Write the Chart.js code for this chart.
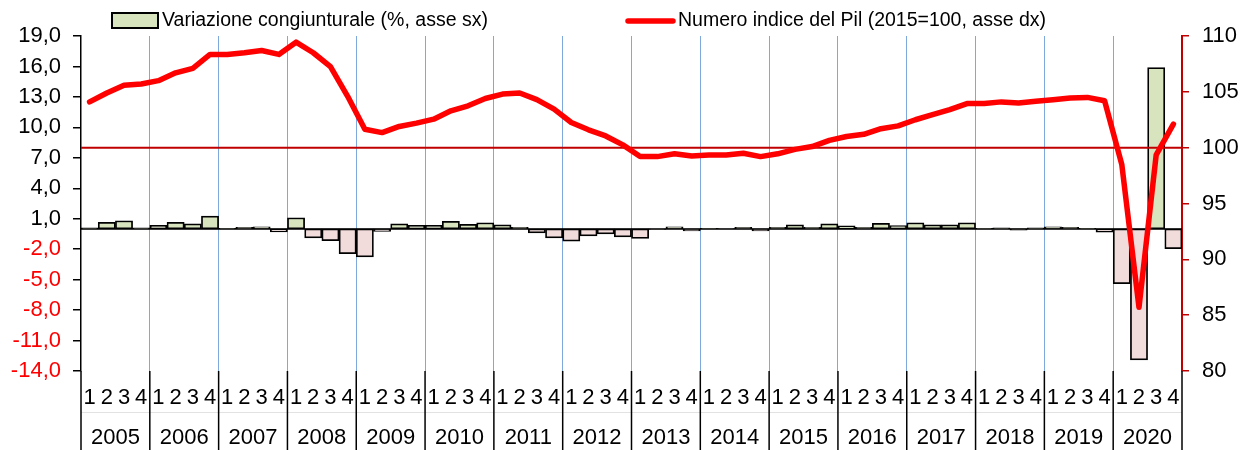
<!DOCTYPE html>
<html>
<head>
<meta charset="utf-8">
<script src="https://cdn.jsdelivr.net/npm/chart.js@4.4.0/dist/chart.umd.min.js"></script>
<style>
  html, body { margin: 0; padding: 0; background: #fff; }
  #wrap { width: 1247px; height: 450px; position: relative; }
</style>
</head>
<body>
<div id="wrap"><canvas id="pil"></canvas></div>
<script>
// Pil trimestrale: variazione congiunturale (barre, asse sx) e numero indice (linea, asse dx)
const years = ["2005", "2006", "2007", "2008", "2009", "2010", "2011", "2012",
  "2013", "2014", "2015", "2016", "2017", "2018", "2019", "2020"];
const quarters = ["1", "2", "3", "4"];

// % su trimestre precedente
const variazione = [
  0.1, 0.65, 0.8, 0.1,
  0.35, 0.65, 0.5, 1.25,
  0.05, 0.15, 0.2, -0.3,
  1.1, -0.9, -1.15, -2.45,
  -2.75, -0.25, 0.5, 0.35,
  0.35, 0.75, 0.45, 0.6,
  0.4, 0.15, -0.4, -0.9,
  -1.2, -0.7, -0.5, -0.8,
  -0.95, -0.05, 0.2, -0.2,
  0.05, 0.03, 0.15, -0.2,
  0.15, 0.4, 0.15, 0.5,
  0.3, 0.15, 0.55, 0.33,
  0.6, 0.4, 0.4, 0.6,
  0.05, 0.1, -0.12, 0.1,
  0.2, 0.15, 0.05, -0.33,
  -5.4, -12.9, 15.9, -1.95,
];

// 2015=100
const indicePil = [
  104.1, 104.9, 105.6, 105.7,
  106.0, 106.7, 107.1, 108.35,
  108.35, 108.5, 108.7, 108.35,
  109.45, 108.5, 107.25, 104.6,
  101.65, 101.35, 101.9, 102.2,
  102.55, 103.3, 103.75, 104.4,
  104.8, 104.9, 104.3, 103.45,
  102.25, 101.6, 101.05, 100.25,
  99.2, 99.2, 99.45, 99.25,
  99.35, 99.35, 99.5, 99.2,
  99.45, 99.85, 100.1, 100.65,
  101.0, 101.2, 101.7, 101.95,
  102.5, 102.95, 103.4, 103.95,
  103.95, 104.1, 104.0, 104.15,
  104.3, 104.45, 104.5, 104.2,
  98.5, 85.7, 99.35, 102.1,
];

const labels = years.flatMap(() => quarters);

const GREEN = "#d7e4bd";
const PINK = "#f2dcdb";
const RED = "#ff0000";
const DARK_RED = "#c00000";
const GRID_BLUE = "#7fa9dc";
const LEGEND_SIZE = 19.5;
const TICK_SIZE = 22;

Chart.defaults.font.family = "'Liberation Sans', Arial, sans-serif";
Chart.defaults.font.size = TICK_SIZE;
Chart.defaults.color = "#000";

const fmtIt = (v) => v.toFixed(1).replace(".", ",");

// zero line + the 100 reference line sit above the bars, under the index line
const decor = {
  id: "decor",
  afterDatasetDraw(chart, args) {
    if (args.meta.type !== "bar") return;
    const { ctx, chartArea: a, scales } = chart;
    ctx.save();
    const y0 = scales.y.getPixelForValue(0);
    ctx.strokeStyle = "#000";
    ctx.lineWidth = 1.5;
    ctx.beginPath();
    ctx.moveTo(a.left, y0);
    ctx.lineTo(a.right, y0);
    ctx.stroke();
    const y100 = scales.y1.getPixelForValue(100);
    ctx.strokeStyle = DARK_RED;
    ctx.lineWidth = 2;
    ctx.beginPath();
    ctx.moveTo(a.left, y100);
    ctx.lineTo(a.right, y100);
    ctx.stroke();
    ctx.restore();
  },
  afterDraw(chart) {
    const { ctx, chartArea: a, scales } = chart;
    const H = chart.height;
    ctx.save();
    // faint line between quarter and year rows
    ctx.strokeStyle = "#e2e2e2";
    ctx.lineWidth = 1;
    ctx.beginPath();
    ctx.moveTo(a.left, 412.5);
    ctx.lineTo(a.right, 412.5);
    ctx.stroke();
    // year separators under the plot
    ctx.strokeStyle = "#000";
    ctx.lineWidth = 1.5;
    for (let i = 0; i <= years.length; i++) {
      const x = scales.x.getPixelForValue(4 * i - 0.5);
      ctx.beginPath();
      ctx.moveTo(x, a.bottom);
      ctx.lineTo(x, H);
      ctx.stroke();
    }
    // legend
    ctx.font = `${LEGEND_SIZE}px 'Liberation Sans', Arial, sans-serif`;
    ctx.textBaseline = "middle";
    ctx.fillStyle = GREEN;
    ctx.fillRect(112, 13, 46, 15);
    ctx.strokeStyle = "#000";
    ctx.lineWidth = 2;
    ctx.strokeRect(112, 13, 46, 15);
    ctx.fillStyle = "#000";
    ctx.fillText(chart.data.datasets[0].label, 162, 20.5);
    ctx.strokeStyle = RED;
    ctx.lineWidth = 5.5;
    ctx.lineCap = "round";
    ctx.beginPath();
    ctx.moveTo(628, 21);
    ctx.lineTo(673, 21);
    ctx.stroke();
    ctx.fillText(chart.data.datasets[1].label, 678, 20.5);
    ctx.restore();
  },
};

new Chart(document.getElementById("pil"), {
  data: {
    labels,
    datasets: [
      {
        type: "bar",
        label: "Variazione congiunturale (%, asse sx)",
        data: variazione,
        yAxisID: "y",
        order: 1,
        backgroundColor: variazione.map((v) => (v >= 0 ? GREEN : PINK)),
        borderColor: "#000",
        borderWidth: 1.75,
        borderSkipped: false,
        categoryPercentage: 1,
        barPercentage: 1,
      },
      {
        type: "line",
        label: "Numero indice del Pil (2015=100, asse dx)",
        data: indicePil,
        yAxisID: "y1",
        order: 0,
        borderColor: RED,
        borderWidth: 5.5,
        borderJoinStyle: "round",
        borderCapStyle: "round",
        pointRadius: 0,
        tension: 0,
      },
    ],
  },
  options: {
    responsive: true,
    maintainAspectRatio: false,
    animation: false,
    layout: { padding: { top: 36, left: 0, right: 0, bottom: 0 } },
    plugins: { legend: { display: false }, tooltip: { enabled: false } },
    scales: {
      x: {
        type: "category",
        offset: true,
        weight: 0,
        grid: {
          offset: true,
          drawTicks: false,
          lineWidth: 1,
          color: (c) => (c.index > 0 && c.index % 4 === 0 ? GRID_BLUE : "rgba(0,0,0,0)"),
        },
        border: { display: false },
        ticks: { autoSkip: false, maxRotation: 0, padding: 14 },
        afterFit: (s) => { s.height = 40; },
      },
      x2: {
        type: "category",
        labels: years,
        position: "bottom",
        offset: true,
        weight: 1,
        grid: { display: false, drawTicks: false },
        border: { display: false },
        ticks: { autoSkip: false, maxRotation: 0, padding: 14 },
        afterFit: (s) => { s.height = 39; },
      },
      y: {
        position: "left",
        min: -14,
        max: 19,
        ticks: {
          stepSize: 3,
          padding: 12,
          callback: (v) => fmtIt(v),
          color: (c) => (c.tick.value < 0 ? RED : "#000"),
        },
        grid: { drawOnChartArea: false, tickLength: 8, color: "#000", lineWidth: 1.5 },
        border: { color: "#000", width: 1.5 },
        afterFit: (s) => { s.width = 81; },
      },
      y1: {
        position: "right",
        min: 80,
        max: 110,
        ticks: { stepSize: 5, padding: 13 },
        grid: { drawOnChartArea: false, tickLength: 7, color: DARK_RED, lineWidth: 1.5 },
        border: { color: DARK_RED, width: 2 },
        afterFit: (s) => { s.width = 65; },
      },
    },
  },
  plugins: [decor],
});
</script>
</body>
</html>
